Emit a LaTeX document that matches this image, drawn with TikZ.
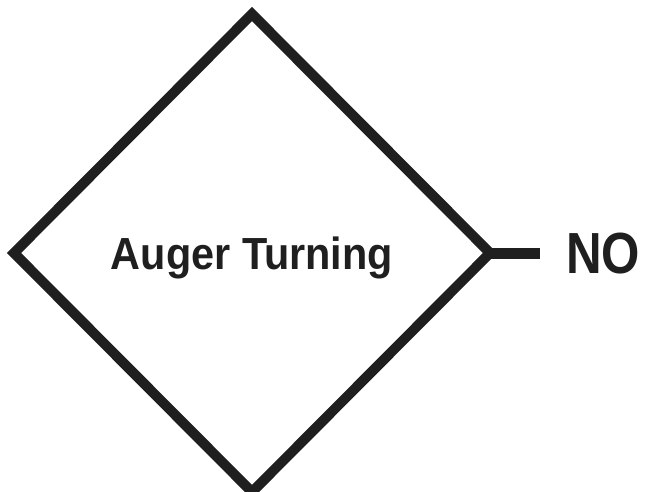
\documentclass[tikz,border=0pt]{standalone}
\usepackage{fontspec}
\usetikzlibrary{shapes.geometric}
\newfontfamily\labfont{Liberation Sans}[FakeStretch=0.92]
\newfontfamily\nofont{Liberation Sans}[FakeStretch=0.85]
\tikzset{
  decision/.style={shape=diamond, draw=black!88, line width=10pt, minimum width=476pt, minimum height=478pt, inner sep=0pt, outer sep=0pt, line join=miter},
  labtext/.style={font=\labfont\bfseries\fontsize{45pt}{45pt}\selectfont, text=black!88, inner sep=0pt},
  notext/.style={font=\nofont\bfseries\fontsize{58pt}{58pt}\selectfont, text=black!88, inner sep=0pt},
  conn/.style={draw=black!88, line width=11pt}
}
\begin{document}
\begin{tikzpicture}[x=1pt,y=-1pt]
\useasboundingbox (0,0) rectangle (650,492);
\node[decision] (d) at (252,253) {};
\node[labtext, anchor=base] (t) at (252,269) {Auger Turning};
\coordinate (e) at (540,253);
\draw[conn] (d.east) -- (e);
\node[notext, anchor=base west] (no) at (566,273) {NO};
\end{tikzpicture}
\end{document}
